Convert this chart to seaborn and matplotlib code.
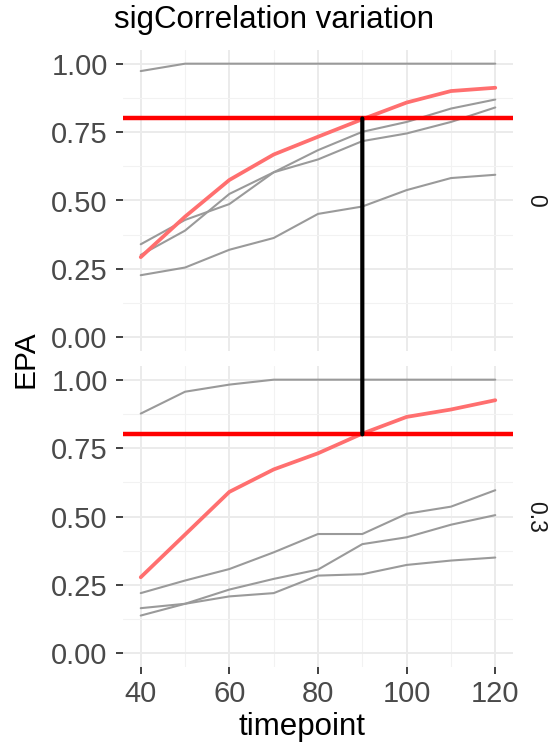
import matplotlib
matplotlib.use("Agg")
import matplotlib.pyplot as plt
from matplotlib.patches import ConnectionPatch
import seaborn as sns
import pandas as pd

# ---- data ----
timepoints = [40, 50, 60, 70, 80, 90, 100, 110, 120]
facet_labels = ["0", "0.3"]

# sigCorrelation = 0
red_0 = [0.293, 0.441, 0.575, 0.668, 0.733, 0.797, 0.858, 0.900, 0.912]
gray_0a = [0.973, 1.0, 1.0, 1.0, 1.0, 1.0, 1.0, 1.0, 1.0]
gray_0b = [0.340, 0.429, 0.487, 0.603, 0.650, 0.717, 0.745, 0.787, 0.840]
gray_0c = [0.301, 0.390, 0.524, 0.603, 0.684, 0.751, 0.787, 0.836, 0.869]
gray_0d = [0.227, 0.255, 0.320, 0.363, 0.451, 0.478, 0.538, 0.582, 0.594]

# sigCorrelation = 0.3
red_3 = [0.278, 0.434, 0.590, 0.672, 0.731, 0.803, 0.864, 0.891, 0.925]
gray_3a = [0.876, 0.956, 0.982, 1.0, 1.0, 1.0, 1.0, 1.0, 1.0]
gray_3b = [0.220, 0.266, 0.308, 0.369, 0.436, 0.436, 0.510, 0.536, 0.596]
gray_3c = [0.138, 0.181, 0.233, 0.272, 0.306, 0.399, 0.424, 0.470, 0.505]
gray_3d = [0.165, 0.181, 0.208, 0.220, 0.284, 0.289, 0.323, 0.339, 0.350]

threshold = 0.8
target_time = 90
y_ticks = [0.00, 0.25, 0.50, 0.75, 1.00]
y_tick_labels = ["0.00", "0.25", "0.50", "0.75", "1.00"]
x_ticks = [40, 60, 80, 100, 120]

panels = [
    (facet_labels[0], red_0, [gray_0a, gray_0b, gray_0c, gray_0d]),
    (facet_labels[1], red_3, [gray_3a, gray_3b, gray_3c, gray_3d]),
]

# ---- styling ----
sns.set_theme(style="white")
plt.rcParams["font.family"] = ["Liberation Sans", "DejaVu Sans"]

W, H = 548, 751
fig = plt.figure(figsize=(W / 100, H / 100), dpi=100)

def fx(px):
    return px / W

def fy(px):
    return 1 - px / H

left_px, right_px = 123, 513
panel_px = [(50, 351), (366, 667)]
axes = []
for (top, bot) in panel_px:
    ax = fig.add_axes([fx(left_px), fy(bot), (right_px - left_px) / W, (bot - top) / H])
    axes.append(ax)

grey_lab = "#4A4A4A"
for i, (ax, (flab, red, grays)) in enumerate(zip(axes, panels)):
    rows = []
    for k, g in enumerate(grays):
        for t, v in zip(timepoints, g):
            rows.append({"timepoint": t, "EPA": v, "series": f"g{k}"})
    df_g = pd.DataFrame(rows)
    df_r = pd.DataFrame({"timepoint": timepoints, "EPA": red, "series": "red"})

    sns.lineplot(data=df_g, x="timepoint", y="EPA", units="series", estimator=None,
                 color="#9A9A9A", lw=1.5, ax=ax, zorder=3, legend=False)
    sns.lineplot(data=df_r, x="timepoint", y="EPA", color="#FF6F6F", lw=2.7,
                 ax=ax, zorder=4, legend=False)
    ax.axhline(threshold, color="#FF0000", lw=3.2, zorder=5)

    ax.set_xlim(36, 124)
    ax.set_ylim(-0.05, 1.05)
    ax.set_yticks(y_ticks)
    ax.set_yticklabels(y_tick_labels)
    ax.set_xticks(x_ticks)
    ax.set_xticks([50, 70, 90, 110], minor=True)
    ax.set_yticks([0.125, 0.375, 0.625, 0.875], minor=True)
    ax.grid(which="major", color="#EBEBEB", lw=1.4, zorder=0)
    ax.grid(which="minor", color="#F2F2F2", lw=0.8, zorder=0)
    ax.set_axisbelow(True)
    for s in ax.spines.values():
        s.set_visible(False)
    ax.set_xlabel("")
    ax.set_ylabel("")
    ax.tick_params(axis="y", which="major", left=True, length=5, width=1.3,
                   color="#333333", labelsize=21, labelcolor=grey_lab, pad=6)
    ax.tick_params(which="minor", length=0)
    if i == 0:
        ax.tick_params(axis="x", which="major", bottom=False, labelbottom=False)
    else:
        ax.tick_params(axis="x", which="major", bottom=True, length=5, width=1.3,
                       color="#333333", labelsize=21, labelcolor=grey_lab, pad=4)
    ax.text(1.058, 0.5, flab, transform=ax.transAxes, rotation=-90,
            ha="center", va="center", fontsize=16.5, color="#1A1A1A")

# black vertical connector at target time between thresholds
con = ConnectionPatch(xyA=(target_time, threshold), coordsA=axes[1].transData,
                      xyB=(target_time, threshold), coordsB=axes[0].transData,
                      color="black", lw=3, zorder=10)
fig.add_artist(con)

fig.text(fx(274), fy(20), "sigCorrelation variation", ha="center", va="center",
         fontsize=22.5, color="black")
fig.text(fx(302), fy(727), "timepoint", ha="center", va="center", fontsize=22.5,
         color="black")
fig.text(fx(25), fy(359), "EPA", ha="center", va="center", rotation=90,
         fontsize=21.5, color="black")

fig.savefig("out.png", dpi=100)
